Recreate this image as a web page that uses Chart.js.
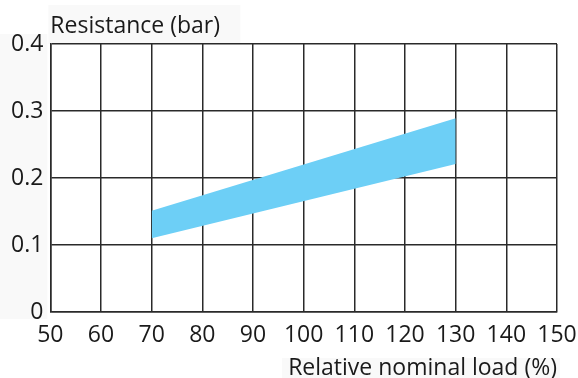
<!DOCTYPE html>
<html>
<head>
<meta charset="utf-8">
<script src="https://cdn.jsdelivr.net/npm/chart.js@4"></script>
<style>
  html, body { margin: 0; padding: 0; background: #fff; }
  #wrap { width: 578px; height: 378px; }
</style>
</head>
<body>
<div id="wrap"><canvas id="mycanvas" width="578" height="378"></canvas></div>
<script>
var loads = [70, 130];
var upperBar = [0.151, 0.289];
var lowerBar = [0.11, 0.221];
var xTicks = [50, 60, 70, 80, 90, 100, 110, 120, 130, 140, 150];
var yTicks = [0, 0.1, 0.2, 0.3, 0.4];

var gridColor = '#2a2a2a';
var txt = '#1a1a1a';
var font = { family: "'Open Sans', 'Noto Sans', sans-serif", size: 23, weight: 'normal', lineHeight: 1 };

function pts(ys) {
	return loads.map(function(x, i) { return { x: x, y: ys[i] }; });
}

// faint grey boxes behind the labels, as in the scanned original
var labelBoxes = {
	id: 'labelBoxes',
	beforeDraw: function(chart) {
		var c = chart.ctx;
		var y = chart.scales.y, x = chart.scales.x, t = chart.titleBlock;
		c.save();
		c.fillStyle = '#f9f9f9';
		c.fillRect(0, y.top - 10, y.right - 3, y.bottom - y.top + 17);
		if (t) c.fillRect(t.left - 2, t.top - 10, 192, t.height + 10);
		c.fillRect(x.right - 275, x.bottom - 22, 278, 22);
		c.restore();
	}
};

var ctx = document.getElementById('mycanvas');
var chart = new Chart(ctx, {
	type: 'line',
	data: {
		datasets: [
			{
				label: 'upper',
				data: pts(upperBar),
				borderWidth: 0,
				pointRadius: 0,
				backgroundColor: '#6dcff6',
				fill: '+1'
			},
			{
				label: 'lower',
				data: pts(lowerBar),
				borderWidth: 0,
				pointRadius: 0,
				fill: false
			}
		]
	},
	options: {
		responsive: false,
		animation: false,
		layout: { padding: { top: 15, right: 0, bottom: -2, left: 4 } },
		plugins: {
			legend: { display: false },
			tooltip: { enabled: false },
			title: {
				display: true,
				text: 'Resistance (bar)',
				align: 'start',
				fullSize: false,
				color: txt,
				font: font,
				padding: { top: 0, bottom: 6 }
			}
		},
		scales: {
			x: {
				type: 'linear',
				min: xTicks[0],
				max: xTicks[xTicks.length - 1],
				z: 1,
				afterBuildTicks: function(axis) {
					axis.ticks = xTicks.map(function(v) { return { value: v }; });
				},
				afterFit: function(axis) {
					axis.paddingRight = 21;
				},
				grid: { color: gridColor, lineWidth: 1.5, drawTicks: false },
				border: { color: gridColor, width: 1.5 },
				ticks: { color: txt, font: font, padding: 12, maxRotation: 0, autoSkip: false },
				title: {
					display: true,
					text: 'Relative nominal load (%)',
					align: 'end',
					color: txt,
					font: font,
					padding: { top: -2, bottom: 0 }
				}
			},
			y: {
				min: yTicks[0],
				max: yTicks[yTicks.length - 1],
				z: 1,
				afterBuildTicks: function(axis) {
					axis.ticks = yTicks.map(function(v) { return { value: v }; });
				},
				grid: { color: gridColor, lineWidth: 1.5, drawTicks: false },
				border: { color: gridColor, width: 1.5 },
				ticks: { color: txt, font: font, padding: 7 }
			}
		}
	},
	plugins: [labelBoxes]
});
</script>
</body>
</html>
